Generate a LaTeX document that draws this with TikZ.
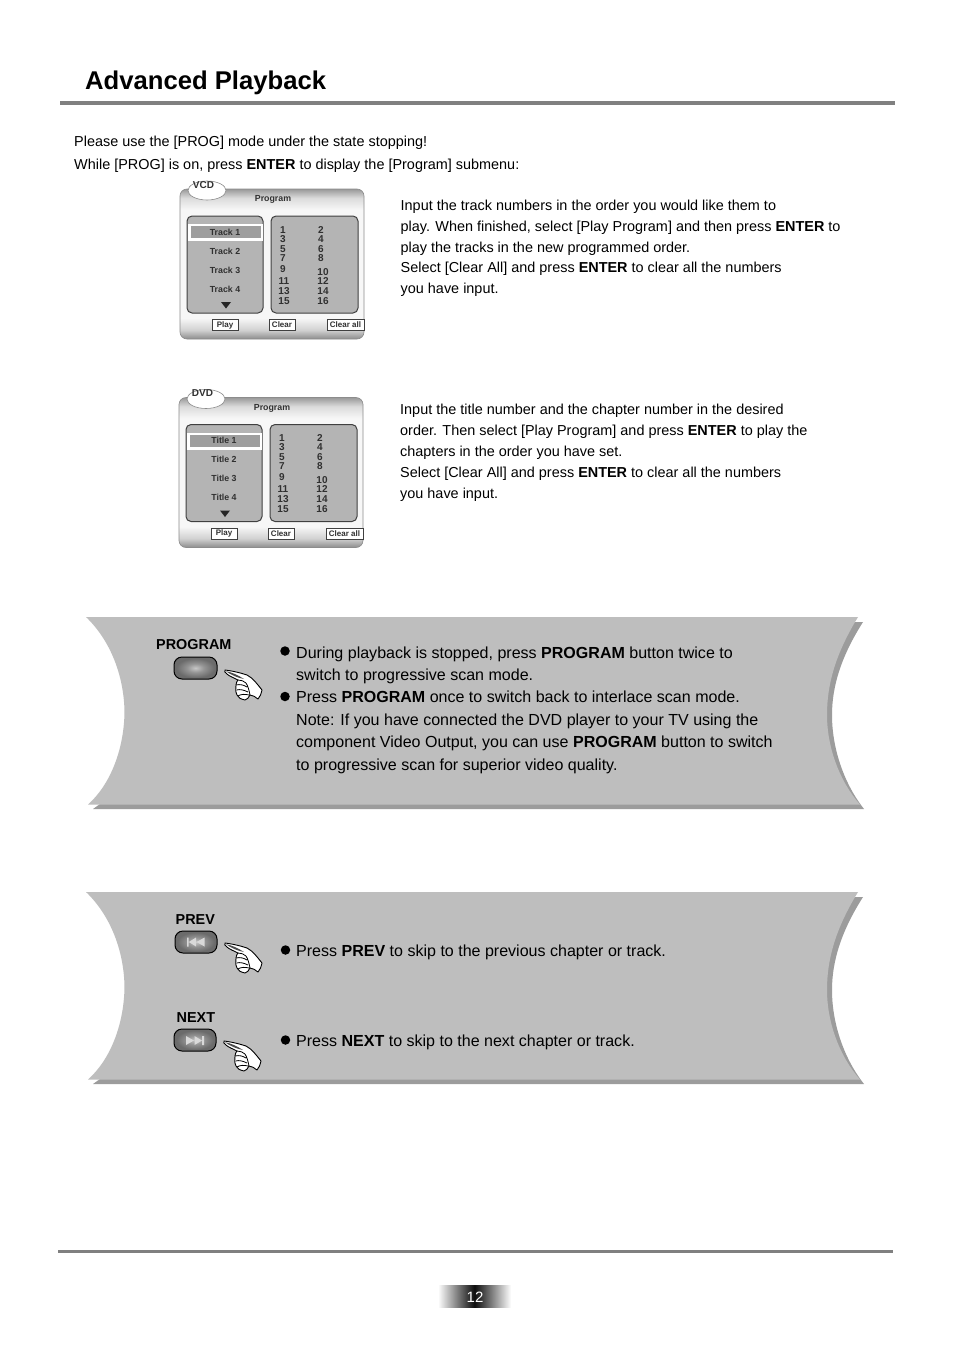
\documentclass[tikz,border=0pt]{standalone}
\usepackage{fontspec}
\setmainfont{Liberation Sans}
\definecolor{panelgray}{HTML}{BEBEBE}
\definecolor{panelshadow}{HTML}{9C9C9C}
\definecolor{rulegray}{HTML}{808080}
\definecolor{listgray}{HTML}{B4B4B4}
\definecolor{dlgtext}{HTML}{303030}
\pgfdeclareverticalshading{dlgshade}{100bp}{
  color(0bp)=(black!45); color(25bp)=(black!45); color(28bp)=(black!18); color(32bp)=(black!3);
  color(68bp)=(black!3); color(72bp)=(black!14); color(75bp)=(black!40); color(100bp)=(black!40)}
\pgfdeclareradialshading{btnshade}{\pgfpoint{0bp}{0bp}}{
  color(0bp)=(black!22); color(10bp)=(black!42); color(22bp)=(black!58); color(50bp)=(black!58)}
\pgfdeclarehorizontalshading{pageshade}{100bp}{
  color(0bp)=(white); color(25bp)=(white); color(42bp)=(black!65); color(50bp)=(black!95);
  color(58bp)=(black!65); color(75bp)=(white); color(100bp)=(white)}
\tikzset{
  lbl/.style={anchor=base west,inner sep=0pt,font=\fontsize{14.43}{16}\selectfont},
  biglbl/.style={anchor=base west,inner sep=0pt,font=\fontsize{16.03}{18}\selectfont},
  keylbl/.style={anchor=base west,inner sep=0pt,font=\fontsize{14.4}{16}\selectfont\bfseries},
  dlgtxt/.style={inner sep=0pt,text=dlgtext,font=\fontsize{8.8}{10}\selectfont\bfseries},
  dlgnum/.style={inner sep=0pt,text=dlgtext,font=\fontsize{10}{10}\selectfont\bfseries},
  dlgbtn/.style={draw=black!75,line width=0.9pt,fill=white,inner sep=0pt,text=dlgtext,
    font=\fontsize{8}{9}\selectfont\bfseries,minimum height=11pt},
  listbox/.style={draw=black!75,line width=1pt,fill=listgray,rounded corners=5pt},
  remote/.style={draw=black,line width=1pt,rounded corners=8pt,shading=btnshade},
  dotmark/.style={circle,fill=black,inner sep=0pt,minimum size=9.5pt},
  rulebar/.style={fill=rulegray,draw=none},
}
\newcommand{\hand}[2]{%
\begin{scope}[shift={(#1,#2)}]
  \draw[fill=white,line width=0.9pt,line join=round]
    (0,-2) .. controls (8,-1) and (16,1) .. (22,3)
    .. controls (28,6) and (33,13) .. (37,18)
    .. controls (36,22) and (35,25) .. (33,27)
    .. controls (30,25) and (28,23) .. (25,23)
    .. controls (24,25) and (22,28) .. (20,28)
    .. controls (16,27) and (13,26) .. (12,23)
    .. controls (10,19) and (11,16) .. (11,13)
    .. controls (11,11) and (12,9) .. (13,8)
    .. controls (9,6) and (4,4) .. (2,2)
    .. controls (0,1) and (-1,-1) .. (0,-2) -- cycle;
  \fill[black!70] (1,-0.8) .. controls (6,0) and (13,3) .. (19,7)
    .. controls (13,6) and (6,3) .. (1,-0.8) -- cycle;
  \draw[line width=0.8pt] (13,8) .. controls (16,8) and (19,9) .. (21,11)
    (11,13) .. controls (15,12) and (19,13) .. (22,15)
    (11.5,18) .. controls (15,17) and (19,18) .. (23,20)
    (13,24) .. controls (16,22) and (20,22) .. (24,23)
    (21,11) .. controls (23,14) and (24,18) .. (25,23);
\end{scope}}
\newcommand{\dialog}[5]{%
\begin{scope}[shift={(#2,#3)}]
  \path[shading=dlgshade,draw=black!45,line width=0.6pt,rounded corners=7pt] (180,189) rectangle (364,339);
  \draw[draw=black!45,fill=white,line width=0.6pt] (207,190.5) ellipse [x radius=19,y radius=9.5];
  \node[dlgnum] (#1tag) at (203.5,185) {#4};
  \node[dlgtxt] (#1head) at (273,199.5) {Program};
  \path[listbox] (187,216) rectangle (263,313);
  \path[listbox] (271,216) rectangle (358,313);
  \fill[white] (188,224) rectangle (263,241);
  \fill[black!38] (191,226) rectangle (261,238);
  \node[dlgtxt] (#1a) at (225,232) {#5 1};
  \node[dlgtxt] (#1b) at (225,251) {#5 2};
  \node[dlgtxt] (#1c) at (225,270) {#5 3};
  \node[dlgtxt] (#1d) at (225,289) {#5 4};
  \fill[black!85] (221,302) -- (231,302) -- (226,308.5) -- cycle;
  \foreach \n/\x/\y in {1/283/230,3/283/239,5/283/249,7/283/258,9/283/269,11/284/281,13/284/291,15/284/301,
                        2/321/230,4/321/239,6/321/249,8/321/258,10/323/272,12/323/281,14/323/291,16/323/301}
    \node[dlgnum] (#1n\n) at (\x,\y) {\n};
  \node[dlgbtn,minimum width=26pt] (#1play) at (225,325) {Play};
  \node[dlgbtn,minimum width=26pt] (#1clear) at (282,325) {Clear};
  \node[dlgbtn,minimum width=37pt] (#1all) at (345.5,325) {Clear all};
\end{scope}}
\newcommand{\banner}[1]{%
\begin{scope}[shift={(0,#1)}]
  \fill[panelshadow] (863,622) .. controls (842,655) and (832,685) .. (832,715)
     .. controls (832,750) and (845,785) .. (864,809) -- (93,809) -- (100,804) -- (800,804) -- (800,622) -- cycle;
  \fill[panelgray] (86,617) -- (858,617) .. controls (838,650) and (827,680) .. (827,715)
     .. controls (827,748) and (840,782) .. (860,804.5) -- (88,804.5)
     .. controls (110,785) and (124,750) .. (124.5,712)
     .. controls (124,675) and (110,640) .. (86,617) -- cycle;
\end{scope}}
\begin{document}
\begin{tikzpicture}[x=1pt,y=-1pt]
\useasboundingbox (0,0) rectangle (954,1349);
\fill[white] (0,0) rectangle (954,1349);
% header
\node[anchor=base west,inner sep=0pt,font=\fontsize{25.65}{30}\selectfont\bfseries] (title) at (85,89) {Advanced Playback};
\fill[rulebar] (60,101) rectangle (895,105);
\node[lbl] (p1) at (74,146) {Please use the [PROG] mode under the state stopping!};
\node[lbl] (p2) at (74,169) {While [PROG] is on, press \textbf{ENTER} to display the [Program] submenu:};
% dialogs
\dialog{v}{0}{0}{VCD}{Track}
\dialog{d}{-1}{208.5}{DVD}{Title}
% dialog texts
\node[lbl] (v1) at (400.5,210) {Input the track numbers in the order you would like them to};
\node[lbl] (v2) at (400.5,231) {play. When finished, select [Play Program] and then press \textbf{ENTER} to};
\node[lbl] (v3) at (400.5,252) {play the tracks in the new programmed order.};
\node[lbl] (v4) at (400.5,272) {Select [Clear All] and press \textbf{ENTER} to clear all the numbers};
\node[lbl] (v5) at (400.5,293) {you have input.};
\node[lbl] (d1) at (400,414) {Input the title number and the chapter number in the desired};
\node[lbl] (d2) at (400,435) {order. Then select [Play Program] and press \textbf{ENTER} to play the};
\node[lbl] (d3) at (400,456) {chapters in the order you have set.};
\node[lbl] (d4) at (400,477) {Select [Clear All] and press \textbf{ENTER} to clear all the numbers};
\node[lbl] (d5) at (400,498) {you have input.};
% banners
\banner{0}
\banner{275}
% program banner
\node[keylbl] (kprog) at (156,649) {PROGRAM};
\path[remote] (174,657) rectangle (217,679);
\hand{225}{672}
\node[dotmark] (b1) at (285,651) {};
\node[dotmark] (b2) at (285,696.5) {};
\node[biglbl] (t1) at (296,658) {During playback is stopped, press \textbf{PROGRAM} button twice to};
\node[biglbl] (t2) at (296,680) {switch to progressive scan mode.};
\node[biglbl] (t3) at (296,702) {Press \textbf{PROGRAM} once to switch back to interlace scan mode.};
\node[biglbl] (t4) at (296,725) {Note: If you have connected the DVD player to your TV using the};
\node[biglbl] (t5) at (296,747) {component Video Output, you can use \textbf{PROGRAM} button to switch};
\node[biglbl] (t6) at (296,770) {to progressive scan for superior video quality.};
% prev next banner
\node[keylbl] (kprev) at (175.5,924) {PREV};
\path[remote] (175,931) rectangle (217,953);
\fill[white!85!black] (187,937.5) rectangle (188.6,946.5) (196,937.5) -- (188.8,942) -- (196,946.5) -- cycle (204.5,937.5) -- (196.5,942) -- (204.5,946.5) -- cycle;
\hand{225}{945}
\node[dotmark] (b3) at (285.5,950) {};
\node[biglbl] (t7) at (296,956) {Press \textbf{PREV} to skip to the previous chapter or track.};
\node[keylbl] (knext) at (176.5,1022) {NEXT};
\path[remote] (174,1029) rectangle (216,1051);
\fill[white!85!black] (186,1036) -- (194,1040.5) -- (186,1045) -- cycle (194.5,1036) -- (202,1040.5) -- (194.5,1045) -- cycle (202.2,1036) rectangle (204,1045);
\hand{224}{1043}
\node[dotmark] (b4) at (285.5,1040) {};
\node[biglbl] (t8) at (296,1046) {Press \textbf{NEXT} to skip to the next chapter or track.};
% footer
\fill[rulebar] (58,1250) rectangle (893,1253);
\path[shading=pageshade] (438,1285) rectangle (511,1307);
\node[anchor=base,inner sep=0pt,text=white,font=\fontsize{15}{16}\selectfont] (page) at (475,1302) {12};
\end{tikzpicture}
\end{document}
